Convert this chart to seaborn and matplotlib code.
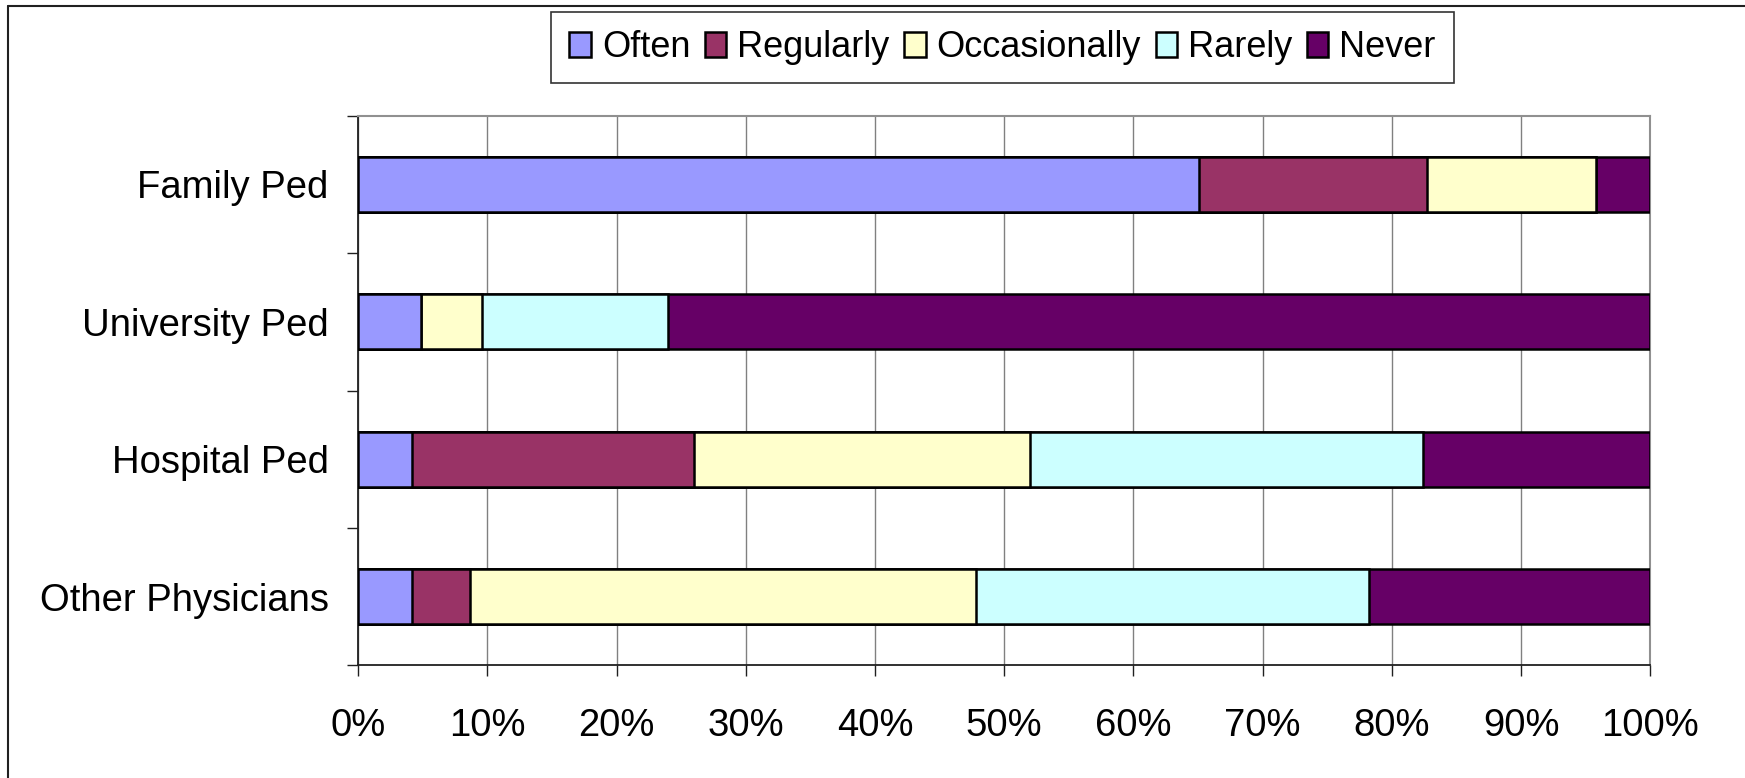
import numpy as np
import pandas as pd
import seaborn as sns
import matplotlib.pyplot as plt
from matplotlib.patches import Patch
from matplotlib.lines import Line2D
from matplotlib.ticker import FuncFormatter, FixedLocator

# data (percent of respondents)
categories = ["Family Ped", "University Ped", "Hospital Ped", "Other Physicians"]
series = ["Often", "Regularly", "Occasionally", "Rarely", "Never"]
often = [65.1, 4.9, 4.2, 4.2]
regularly = [17.6, 0.0, 21.8, 4.5]
occasionally = [13.1, 4.7, 26.0, 39.1]
rarely = [0.0, 14.4, 30.4, 30.4]
never = [4.2, 76.0, 17.6, 21.8]
colors = ["#9999FF", "#993366", "#FFFFCC", "#CCFFFF", "#660066"]

sns.set_style("white")
plt.rcParams['font.family'] = ['Liberation Sans', 'DejaVu Sans']
plt.rcParams['text.color'] = 'black'
plt.rcParams['xtick.color'] = 'black'
plt.rcParams['ytick.color'] = 'black'

df = pd.DataFrame({"Often": often, "Regularly": regularly,
                   "Occasionally": occasionally, "Rarely": rarely,
                   "Never": never}, index=categories)
cum = df[series].cumsum(axis=1)

fig = plt.figure(figsize=(17.45, 7.78), dpi=100)
ax = fig.add_axes([358/1745, 112.7/778, (1650.5-358)/1745, (665.3-115.7)/778])

# stacked bars: draw cumulative totals from the widest down
for s, c in reversed(list(zip(series, colors))):
    sns.barplot(x=cum[s].values, y=categories, color=c, saturation=1,
                width=0.4, edgecolor="black", linewidth=1.8, orient="h",
                ax=ax, zorder=3)

ax.set_xlim(0, 100)
ax.set_ylim(3.5, -0.5)
ax.set_xticks(np.arange(0, 101, 10))
ax.xaxis.set_major_formatter(FuncFormatter(lambda v, p: f"{int(v)}%"))
ax.set_xlabel("")
ax.set_ylabel("")
ax.xaxis.grid(True, color="#808080", linewidth=1.0, zorder=0)
ax.yaxis.grid(False)
ax.set_axisbelow(True)

ax.tick_params(axis="x", which="major", direction="out", length=8, width=1,
               color="#202020", labelsize=27.5, labelcolor="black", pad=23,
               bottom=True)
ax.tick_params(axis="y", which="major", length=0, labelsize=27.5,
               labelcolor="black", pad=21)
ax.yaxis.set_minor_locator(FixedLocator([-0.5, 0.5, 1.5, 2.5, 3.5]))
ax.tick_params(axis="y", which="minor", direction="out", length=8, width=1,
               color="#202020", left=True)

for side in ["left", "bottom"]:
    ax.spines[side].set_color("#202020")
    ax.spines[side].set_linewidth(1.3)
for side in ["top", "right"]:
    ax.spines[side].set_visible(True)
    ax.spines[side].set_color("#909090")
    ax.spines[side].set_linewidth(1.5)

handles = [Patch(facecolor=c, edgecolor="black", linewidth=1.8, label=s)
           for s, c in zip(series, colors)]
leg = fig.legend(handles=handles, loc="upper center", ncol=5,
                 bbox_to_anchor=(1002.5/1745, 1 - 12/778), fontsize=26,
                 frameon=True, fancybox=False, edgecolor="black",
                 handlelength=0.6, handleheight=0.7, handletextpad=0.3,
                 columnspacing=0.4, borderpad=0.5, borderaxespad=0)
leg.get_frame().set_linewidth(1.2)
for t in leg.get_texts():
    t.set_color("black")

# outer chart border (left and top edges visible in the reference)
bx = 8/1745
by = 1 - 6/778
fig.add_artist(Line2D([bx, bx], [0, by], transform=fig.transFigure,
                      color="#202020", linewidth=1.5))
fig.add_artist(Line2D([bx, 1], [by, by], transform=fig.transFigure,
                      color="#202020", linewidth=1.5))

fig.savefig("out.png", dpi=100, facecolor="white")
